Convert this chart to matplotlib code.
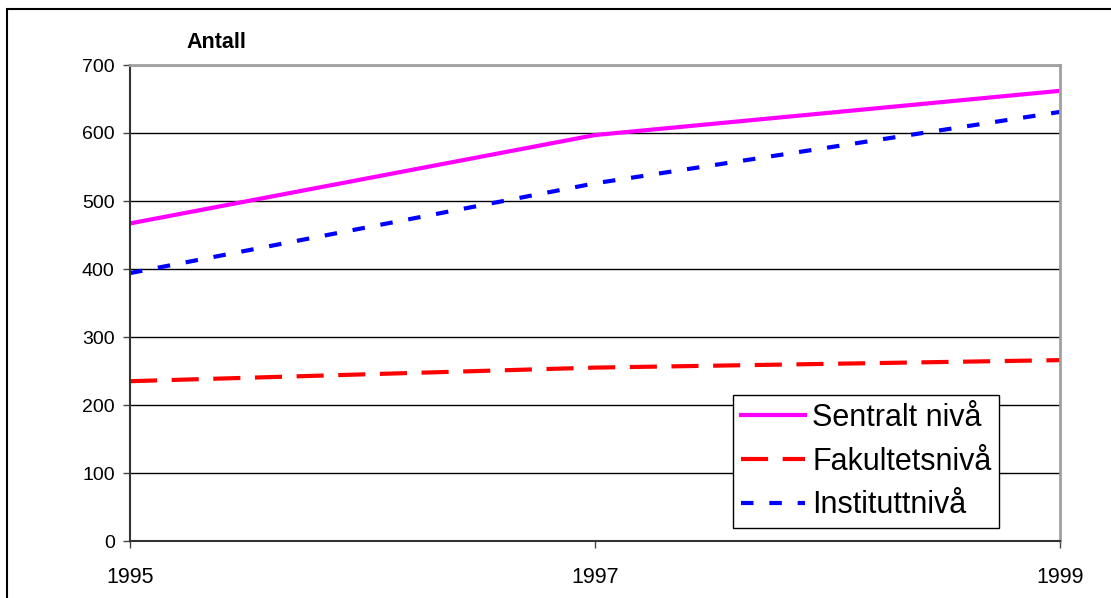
import matplotlib.pyplot as plt
from matplotlib.patches import Rectangle

years = [1995, 1997, 1999]
sentralt = [467, 597, 662]
fakultet = [235, 255, 266]
institutt = [394, 526, 631]

plt.rcParams['font.family'] = ['Liberation Sans', 'DejaVu Sans']

fig = plt.figure(figsize=(11.11, 5.98), dpi=100)
ax = fig.add_axes([130/1111, 57/598, 930/1111, 476/598])

# outer chart frame (left and top visible)
fig.patches.append(Rectangle((7/1111, -0.1), 1.2, (598-9)/598 + 0.1, transform=fig.transFigure,
                             fill=False, edgecolor='black', linewidth=1.5))

ax.plot(years, sentralt, color='#ff00ff', linewidth=3, label='Sentralt nivå')
ax.plot(years, fakultet, color='#ff0000', linewidth=3, dashes=(6.5, 3.5), label='Fakultetsnivå')
ax.plot(years, institutt, color='#0000ff', linewidth=3, dashes=(3, 3.8), label='Instituttnivå')

ax.set_xlim(1995, 1999)
ax.set_ylim(0, 700)
ax.set_xticks(years)
ax.set_yticks(range(0, 701, 100))
ax.yaxis.grid(True, color='black', linewidth=1)
ax.set_axisbelow(True)
ax.tick_params(axis='y', labelsize=14, length=5, width=1, color='#444444', pad=6)
ax.tick_params(axis='x', labelsize=15.5, length=5, width=1, color='#444444', pad=14)

for side in ['top', 'right']:
    ax.spines[side].set_color('#a0a0a0')
    ax.spines[side].set_linewidth(2)
ax.spines['left'].set_color('#333333')
ax.spines['bottom'].set_color('#333333')
ax.spines['left'].set_linewidth(1.5)
ax.spines['bottom'].set_linewidth(1.5)

fig.text(186/1111, 1 - 42/598, 'Antall', fontsize=15.5, fontweight='bold', va='center')

leg = ax.legend(loc='lower left', bbox_to_anchor=(603/930, 13/476), fontsize=22,
                frameon=True, fancybox=False, edgecolor='black', framealpha=1,
                handlelength=2.1, handletextpad=0.25, borderpad=0.25, labelspacing=0.45,
                borderaxespad=0)
leg.get_frame().set_linewidth(1)

fig.savefig('out.png', dpi=100)
